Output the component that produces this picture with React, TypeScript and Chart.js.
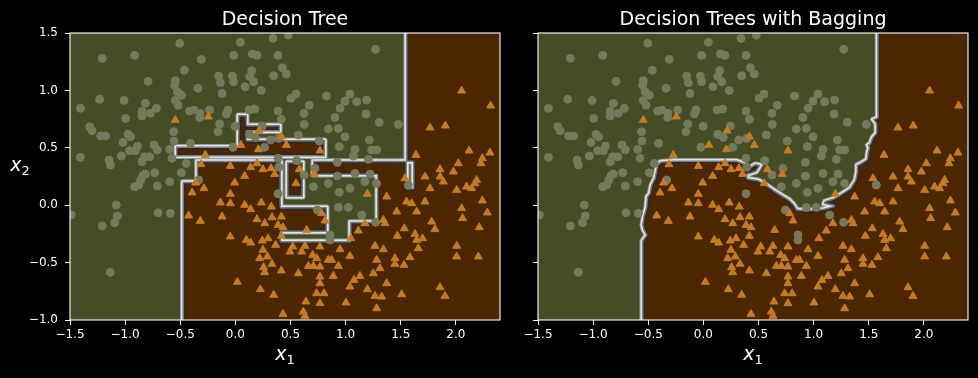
import React, { useEffect, useRef } from 'react';
import { Chart, registerables } from 'chart.js';

Chart.register(...registerables);

// ---------- data ----------
const titles = ['Decision Tree', 'Decision Trees with Bagging'];
const xTicks = [-1.5, -1.0, -0.5, 0.0, 0.5, 1.0, 1.5, 2.0];
const yTicks = [-1.0, -0.5, 0.0, 0.5, 1.0, 1.5];
const xRange = [-1.5, 2.4];
const yRange = [-1.0, 1.5];

// class 0 (circles)
const class0X = [
  -0.505, 0.045, 0.341, -1.207, -0.913, -0.309, -0.016, 0.154, 0.196, 0.387, -0.463, 0.148, 0.426, -0.792, -0.545,
  -0.152, -0.028, -0.016, -0.136, 0.13, 0.166, 0.347, 0.462, -0.339, -0.121, 0.087, 0.235, -0.551, -0.526, -0.49,
  -1.231, -1.01, -0.545, -0.52, -1.406, -0.817, -0.717, -0.847, -0.771, -0.847, -0.415, -0.375, -0.321, -0.233, -0.324,
  -0.067, -0.082, 0.124, 0.175, 0.387, 0.417, -0.995, -0.142, -0.158, -0.002, 0.13, 0.181, 0.244, -1.321, -1.3,
  -1.222, -1.179, -0.974, -0.95, -1.019, -0.56, -0.557, -0.406, -0.022, 0.266, 0.32, 0.393, -0.738, -0.708, -0.889,
  -0.907, -0.959, -0.596, -0.575, -1.406, -1.034, -1.146, -1.134, -0.847, -0.823, -0.777, -0.445, 0.387, 0.393, -0.838,
  -0.817, -0.732, -0.49,
  0.48, 1.272, 0.55, 0.504, 0.828, 1.039, 0.994, 1.1, 1.19, 0.67, 0.622, 0.949, 0.903, 1.185, 1.305, 1.478, 0.625,
  0.843, 0.934, 0.994, 0.571, 1.215, 0.761, 0.943, 1.085, 1.236, 1.281, 1.07, 1.206, 0.556, 0.925, 1.085, 1.221, 0.925,
  0.722,
  -0.859, -0.877, -0.913, -0.708, -0.596, -0.333, -1.08, -1.488, -1.071, -1.095, -1.207, -0.702, -0.59, -1.134, 0.387,
  0.622, 1.281, 1.175, 0.707, 0.843, 0.943, 1.039, 0.934, 1.024, 0.743, 1.145, 1.272, 0.858, 0.858, 1.568,
];
const class0Y = [
  1.41, 1.419, 1.453, 1.279, 1.305, 1.27, 1.305, 1.317, 1.305, 1.305, 1.175, 1.172, 1.198, 1.079, 1.085,
  1.125, 1.125, 1.076, 1.067, 1.12, 1.076, 1.128, 1.143, 1.018, 0.974, 1.032, 1.0, 1.044, 0.986, 0.957,
  0.922, 0.913, 0.913, 0.87, 0.844, 0.887, 0.844, 0.817, 0.8, 0.777, 0.82, 0.829, 0.8, 0.829, 0.765,
  0.829, 0.794, 0.829, 0.838, 0.82, 0.748, 0.756, 0.707, 0.64, 0.687, 0.617, 0.591, 0.69, 0.684, 0.649,
  0.603, 0.603, 0.617, 0.597, 0.547, 0.64, 0.559, 0.539, 0.504, 0.504, 0.568, 0.582, 0.524, 0.481, 0.515,
  0.475, 0.475, 0.486, 0.408, 0.417, 0.428, 0.393, 0.35, 0.379, 0.422, 0.422, 0.364, 0.408, 0.33, 0.257,
  0.271, 0.283, 0.283,
  1.482, 1.358, 0.968, 0.931, 0.951, 0.968, 0.907, 0.902, 0.916, 0.87, 0.8, 0.844, 0.765, 0.794, 0.722, 0.704, 0.704,
  0.664, 0.669, 0.597, 0.611, 0.568, 0.559, 0.51, 0.486, 0.481, 0.481, 0.428, 0.399, 0.388, 0.373, 0.277, 0.271, 0.254,
  0.321,
  0.22, 0.176, 0.161, 0.167, 0.205, 0.22, 0.002, -0.085, -0.094, -0.152, -0.181, -0.065, -0.071, -0.585, 0.1,
  0.263, 0.19, 0.205, 0.161, 0.19, 0.112, 0.147, -0.019, -0.019, -0.042, -0.085, -0.149, -0.26, -0.303, 0.176,
];

// class 1 (triangles)
const class1X = [
  -0.545, -0.245, 0.214, 0.417, 0.462, 0.051, 0.208, -0.273, -0.312, -0.046, 0.139, 0.196, 0.25, 0.323, 0.356, 0.084,
  2.052, 2.315, 1.765, 1.904, 1.638, 2.119, 2.309, 2.24, 2.227, 2.022, 1.856, 1.977, 1.72, 1.856, 0.767, 0.58, 0.716,
  1.538, 2.188,
  -0.36, -0.285, -0.393, -0.006, -0.046, -0.136, -0.046, 0.235, 0.326, 0.084, 0.139, -0.424, -0.318, -0.121, 0.196,
  0.266, 0.332, 0.417, 0.387, 0.432, -0.046, 0.099, 0.139, 0.244, 0.296, 0.365, 0.417, 0.25, 0.22, 0.29, 0.332, 0.256,
  0.266, 0.417, 0.018, 0.226, 0.347, 0.432,
  0.55, 1.886, 1.765, 2.097, 2.173, 2.143, 2.007, 1.372, 1.197, 1.553, 1.599, 1.72, 1.644, 1.463, 0.782, 0.813, 1.342,
  1.357, 1.175, 1.115, 0.646, 1.532, 1.78, 1.81, 2.052, 2.061, 2.24, 2.285, 2.212, 1.469, 1.629, 1.644, 1.698, 1.659,
  1.048, 2.007, 2.007, 2.203, 0.52, 0.631, 0.767, 0.949, 1.039, 1.266, 1.342, 1.281, 1.447, 1.583, 1.447, 1.529, 1.311,
  1.251, 0.701, 0.737, 0.662, 0.707, 0.767, 0.843, 0.873, 0.934, 0.601, 0.495, 0.571, 0.767, 0.888, 0.767, 1.076,
  1.039, 1.13, 1.197, 1.372, 1.266, 1.327, 1.508, 1.856, 1.901, 0.737, 0.804, 0.767, 1.003, 0.64, 0.616, 1.281, 0.631,
];
const class1Y = [
  0.742, 0.771, 0.649, 0.597, 0.524, 0.524, 0.486, 0.437, 0.356, 0.341, 0.33, 0.364, 0.312, 0.321, 0.271, 0.254,
  0.997, 0.867, 0.675, 0.693, 0.437, 0.475, 0.457, 0.408, 0.364, 0.364, 0.312, 0.292, 0.248, 0.248, 0.475, 0.312, 0.271,
  0.234, 0.219,
  0.196, 0.147, 0.109, 0.196, 0.098, 0.022, 0.016, 0.022, -0.013, 0.002, -0.036, -0.091, -0.138, -0.1, -0.123,
  -0.158, -0.106, -0.1, -0.173, -0.193, -0.274, -0.303, -0.327, -0.309, -0.289, -0.347, -0.268, -0.39, -0.463, -0.448,
  -0.512, -0.541, -0.585, -0.57, -0.669, -0.733, -0.782, -0.948,
  0.19, 0.205, 0.147, 0.161, 0.19, 0.147, 0.132, 0.074, 0.098, 0.031, 0.016, 0.031, -0.056, -0.056, -0.071, -0.135,
  -0.129, -0.158, -0.158, -0.222, -0.216, -0.202, -0.144, -0.21, -0.027, -0.114, 0.04, -0.065, -0.193, -0.268, -0.251,
  -0.303, -0.289, -0.376, -0.289, -0.355, -0.448, -0.448, -0.361, -0.355, -0.361, -0.385, -0.443, -0.355, -0.385,
  -0.477, -0.463, -0.454, -0.512, -0.521, -0.55, -0.594, -0.434, -0.463, -0.53, -0.53, -0.536, -0.477, -0.477, -0.53,
  -0.405, -0.405, -0.594, -0.623, -0.617, -0.681, -0.652, -0.71, -0.617, -0.733, -0.681, -0.791, -0.797, -0.777,
  -0.716, -0.791, -0.768, -0.768, -0.855, -0.849, -0.84, -0.928, -0.899, -0.965,
];

// decision regions of class 1 (polygon outlines in data units)
const treeMainRegion = [
  [-0.48, -1.5], [-0.48, 0.205], [-0.351, 0.205], [-0.351, 0.388], [0.414, 0.388], [0.414, -0.016],
  [0.831, -0.016], [0.831, -0.233], [0.414, -0.233], [0.414, -0.312], [1.039, -0.312], [1.039, -0.144],
  [1.284, -0.144], [1.284, 0.263], [0.704, 0.263], [0.704, 0.388], [1.547, 0.388], [1.547, 2.0],
  [3.0, 2.0], [3.0, -1.5],
];
const treeHole = [[1.556, 0.376], [1.611, 0.376], [1.611, 0.15], [1.556, 0.15]];
const treeStrip = [
  [-0.539, 0.511], [0.024, 0.511], [0.024, 0.786], [0.105, 0.786], [0.105, 0.699], [0.405, 0.699],
  [0.405, 0.642], [0.105, 0.642], [0.105, 0.568], [0.813, 0.568], [0.813, 0.424], [-0.539, 0.424],
];
const treeFinger = [[0.468, 0.376], [0.613, 0.376], [0.613, 0.071], [0.468, 0.071]];

const bagRegion = [
  [-0.557, -1.5], [-0.557, -0.31], [-0.52, -0.26], [-0.545, -0.216], [-0.557, -0.173], [-0.545, -0.1],
  [-0.52, -0.013], [-0.514, 0.074], [-0.49, 0.103], [-0.475, 0.176], [-0.445, 0.234], [-0.43, 0.3],
  [-0.42, 0.35], [-0.39, 0.38], [-0.27, 0.39], [0.3, 0.39], [0.36, 0.37], [0.42, 0.33], [0.47, 0.36],
  [0.52, 0.35], [0.48, 0.29], [0.4, 0.265], [0.4, 0.235], [0.5, 0.22], [0.57, 0.18], [0.63, 0.14],
  [0.71, 0.09], [0.78, 0.05], [0.82, 0.01], [0.85, -0.035], [0.94, -0.042], [1.09, -0.03], [1.18, -0.007],
  [1.09, 0.01], [1.1, 0.036], [1.18, 0.06], [1.25, 0.1], [1.33, 0.15], [1.375, 0.22], [1.39, 0.29],
  [1.39, 0.35], [1.43, 0.37], [1.48, 0.4], [1.49, 0.47], [1.5, 0.5], [1.487, 0.524], [1.511, 0.539],
  [1.53, 0.59], [1.565, 0.63], [1.565, 0.71], [1.535, 0.748], [1.577, 0.765], [1.577, 2.0], [3.0, 2.0],
  [3.0, -1.5],
];

// ---------- styling ----------
const OLIVE = '#444d25';
const BROWN = '#4c2600';
const FONT = '"DejaVu Sans", sans-serif';

const fmt = (v: number) => (v < 0 ? '\u2212' + Math.abs(v).toFixed(1) : v.toFixed(1));

function drawMath(ctx: CanvasRenderingContext2D, main: string, sub: string, cx: number, baseline: number) {
  ctx.textAlign = 'left';
  ctx.textBaseline = 'alphabetic';
  ctx.font = `italic 19px ${FONT}`;
  const w1 = ctx.measureText(main).width;
  ctx.font = `13px ${FONT}`;
  const w2 = ctx.measureText(sub).width;
  const x0 = cx - (w1 + w2) / 2;
  ctx.font = `italic 19px ${FONT}`;
  ctx.fillText(main, x0, baseline);
  ctx.font = `13px ${FONT}`;
  ctx.fillText(sub, x0 + w1, baseline + 4);
}

const regionPlugin = {
  id: 'regions',
  beforeDatasetsDraw(chart: any, _args: any, opts: any) {
    const { ctx, chartArea: a } = chart;
    const xs = chart.scales.x;
    const ys = chart.scales.y;
    const w = a.right - a.left;
    const h = a.bottom - a.top;
    ctx.save();
    ctx.beginPath();
    ctx.rect(a.left, a.top, w, h);
    ctx.clip();
    ctx.fillStyle = OLIVE;
    ctx.fillRect(a.left, a.top, w, h);
    const path = new Path2D();
    for (const poly of opts.polygons as number[][][]) {
      poly.forEach((p, i) => {
        const px = xs.getPixelForValue(p[0]);
        const py = ys.getPixelForValue(p[1]);
        if (i === 0) path.moveTo(px, py);
        else path.lineTo(px, py);
      });
      path.closePath();
    }
    ctx.fillStyle = BROWN;
    ctx.fill(path, 'evenodd');
    ctx.lineJoin = 'round';
    const strokeWith = (lw: number, c: string) => {
      ctx.lineWidth = lw;
      ctx.strokeStyle = c;
      ctx.stroke(path);
    };
    // dark side (inside the class-1 region)
    ctx.save();
    ctx.clip(path, 'evenodd');
    strokeWith(6, '#2a2a2a');
    strokeWith(3, '#7e7e7e');
    ctx.restore();
    // light side (outside)
    ctx.save();
    const outside = new Path2D();
    outside.rect(a.left - 10, a.top - 10, w + 20, h + 20);
    outside.addPath(path);
    ctx.clip(outside, 'evenodd');
    strokeWith(5, '#9a9a9a');
    strokeWith(3, '#e4e4e4');
    ctx.restore();
    ctx.restore();
  },
  afterDatasetsDraw(chart: any) {
    const { ctx, chartArea: a } = chart;
    ctx.save();
    ctx.strokeStyle = '#ffffff';
    ctx.lineWidth = 1.1;
    ctx.strokeRect(a.left, a.top, a.right - a.left, a.bottom - a.top);
    ctx.restore();
  },
  afterDraw(chart: any, _args: any, opts: any) {
    const { ctx, chartArea: a } = chart;
    const cx = (a.left + a.right) / 2;
    ctx.save();
    ctx.fillStyle = '#ffffff';
    ctx.textAlign = 'center';
    ctx.textBaseline = 'alphabetic';
    ctx.font = `19px ${FONT}`;
    ctx.fillText(opts.title, cx, 25);
    drawMath(ctx, 'x', '1', cx, 360);
    if (opts.yLabel) drawMath(ctx, 'x', '2', 20, 171);
    ctx.restore();
  },
};

function makeConfig(title: string, polygons: number[][][], yLabels: boolean, padLeft: number, yWidth: number): any {
  const tri = class1X.map((x, i) => ({ x, y: class1Y[i] }));
  const circ = class0X.map((x, i) => ({ x, y: class0Y[i] }));
  const tickFont = { family: FONT, size: 12 };
  return {
    type: 'scatter',
    data: {
      datasets: [
        {
          data: tri,
          pointStyle: 'triangle',
          pointRadius: 4.6,
          borderWidth: 1,
          backgroundColor: '#c47b27',
          borderColor: '#c47b27',
          clip: 0,
        },
        {
          data: circ,
          pointStyle: 'circle',
          pointRadius: 4,
          borderWidth: 1,
          backgroundColor: '#78785c',
          borderColor: '#78785c',
          clip: 0,
        },
      ],
    },
    options: {
      responsive: false,
      animation: false,
      events: [],
      layout: { padding: { left: padLeft, right: 10, top: 33, bottom: 18 } },
      plugins: {
        legend: { display: false },
        tooltip: { enabled: false },
        regions: { polygons, title, yLabel: yLabels },
      },
      scales: {
        x: {
          type: 'linear',
          min: xRange[0],
          max: xRange[1],
          afterBuildTicks: (s: any) => {
            s.ticks = xTicks.map((v) => ({ value: v }));
          },
          afterFit: (s: any) => {
            s.height = 40;
          },
          ticks: {
            color: '#ffffff',
            font: tickFont,
            padding: 3,
            autoSkip: false,
            maxRotation: 0,
            callback: (v: number) => fmt(v),
          },
          grid: { display: true, drawOnChartArea: false, drawTicks: true, tickLength: 5, color: '#ffffff', lineWidth: 1 },
          border: { display: false },
        },
        y: {
          type: 'linear',
          min: yRange[0],
          max: yRange[1],
          afterBuildTicks: (s: any) => {
            s.ticks = yTicks.map((v) => ({ value: v }));
          },
          afterFit: (s: any) => {
            s.width = yWidth;
          },
          ticks: {
            color: '#ffffff',
            font: tickFont,
            padding: 7,
            autoSkip: false,
            callback: (v: number) => (yLabels ? fmt(v) : ''),
          },
          grid: { display: true, drawOnChartArea: false, drawTicks: true, tickLength: 5, color: '#ffffff', lineWidth: 1 },
          border: { display: false },
        },
      },
    },
    plugins: [regionPlugin],
  };
}

export default function App() {
  const leftRef = useRef<HTMLCanvasElement>(null);
  const rightRef = useRef<HTMLCanvasElement>(null);

  useEffect(() => {
    document.body.style.background = '#000';
    const c1 = new Chart(
      leftRef.current as HTMLCanvasElement,
      makeConfig(titles[0], [treeMainRegion, treeHole, treeStrip, treeFinger], true, 20, 50)
    );
    const c2 = new Chart(rightRef.current as HTMLCanvasElement, makeConfig(titles[1], [bagRegion], false, 18, 10));
    return () => {
      c1.destroy();
      c2.destroy();
    };
  }, []);

  return (
    <div style={{ position: 'absolute', left: 0, top: 0, width: 978, height: 378, background: '#000', overflow: 'hidden' }}>
      <canvas ref={leftRef} width={510} height={378} style={{ position: 'absolute', left: 0, top: 0 }} />
      <canvas ref={rightRef} width={468} height={378} style={{ position: 'absolute', left: 510, top: 0 }} />
    </div>
  );
}
